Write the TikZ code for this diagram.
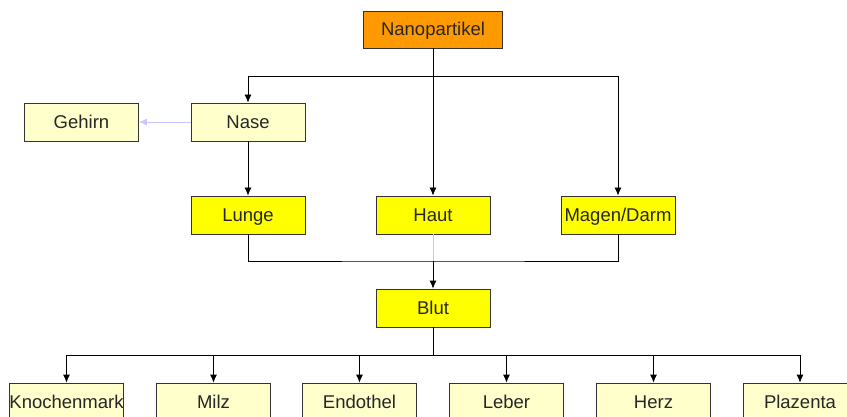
\documentclass[tikz,border=0pt]{standalone}
\usepackage{fontspec}
\setmainfont{Liberation Sans}
\usetikzlibrary{arrows.meta}
\definecolor{nanoorange}{HTML}{FF9900}
\definecolor{organyellow}{HTML}{FFFF00}
\definecolor{paleyellow}{HTML}{FFFFCC}
\definecolor{faintblue}{HTML}{C8C8FF}
\tikzset{
box/.style={draw=black!80, text=black!85, inner sep=0, minimum width=114pt,
  minimum height=38pt, text height=13pt, text depth=0pt,
  font=\fontsize{18.5}{20}\selectfont},
organ/.style={box, fill=organyellow},
target/.style={box, fill=paleyellow},
arr/.style={-{Latex[length=8pt,width=7pt]}}
}

\begin{document}
\begin{tikzpicture}[x=1pt, y=-1pt, line width=0.8pt]
\useasboundingbox (0,0) rectangle (847,417);
\clip (0,0) rectangle (847,417);
\path (433,29.5) node[box, fill=nanoorange, minimum width=139pt, minimum height=37pt] (nano) {Nanopartikel};
\path (248,122) node[target] (nase) {Nase};
\path (81.5,122) node[target] (gehirn) {Gehirn};
\path (248,215) node[organ] (lunge) {Lunge};
\path (433,215) node[organ] (haut) {Haut};
\path (618,215) node[organ] (magen) {Magen/Darm};
\path (433,308) node[organ] (blut) {Blut};
\path (66.5,402) node[target] (knochen) {Knochenmark};
\path (213.5,402) node[target] (milz) {Milz};
\path (359.5,402) node[target] (endothel) {Endothel};
\path (506.5,402) node[target] (leber) {Leber};
\path (653.5,402) node[target] (herz) {Herz};
\path (800,402) node[target] (plazenta) {Plazenta};

% Aufnahme
\coordinate (tj) at (433,76);
\draw[arr] (nano) -- (haut);
\draw[arr] (tj) -| (nase);
\draw[arr] (tj) -| (magen);
\draw[arr] (nase) -- (lunge);
\draw[arr, faintblue] (nase) -- (gehirn);

% ins Blut
\coordinate (mj) at (433,261);
\draw (lunge.south) |- (mj) -| (magen.south);
\draw[faintblue] (haut) -- (mj);
\draw[arr] (mj) -- (blut);

% Verteilung
\coordinate (bj) at (433,355);
\draw (blut) -- (bj);
\draw (knochen |- bj) -- (plazenta |- bj);
\foreach \n in {knochen, milz, endothel, leber, herz, plazenta}
  \draw[arr] (\n |- bj) -- (\n.north);
\end{tikzpicture}
\end{document}
